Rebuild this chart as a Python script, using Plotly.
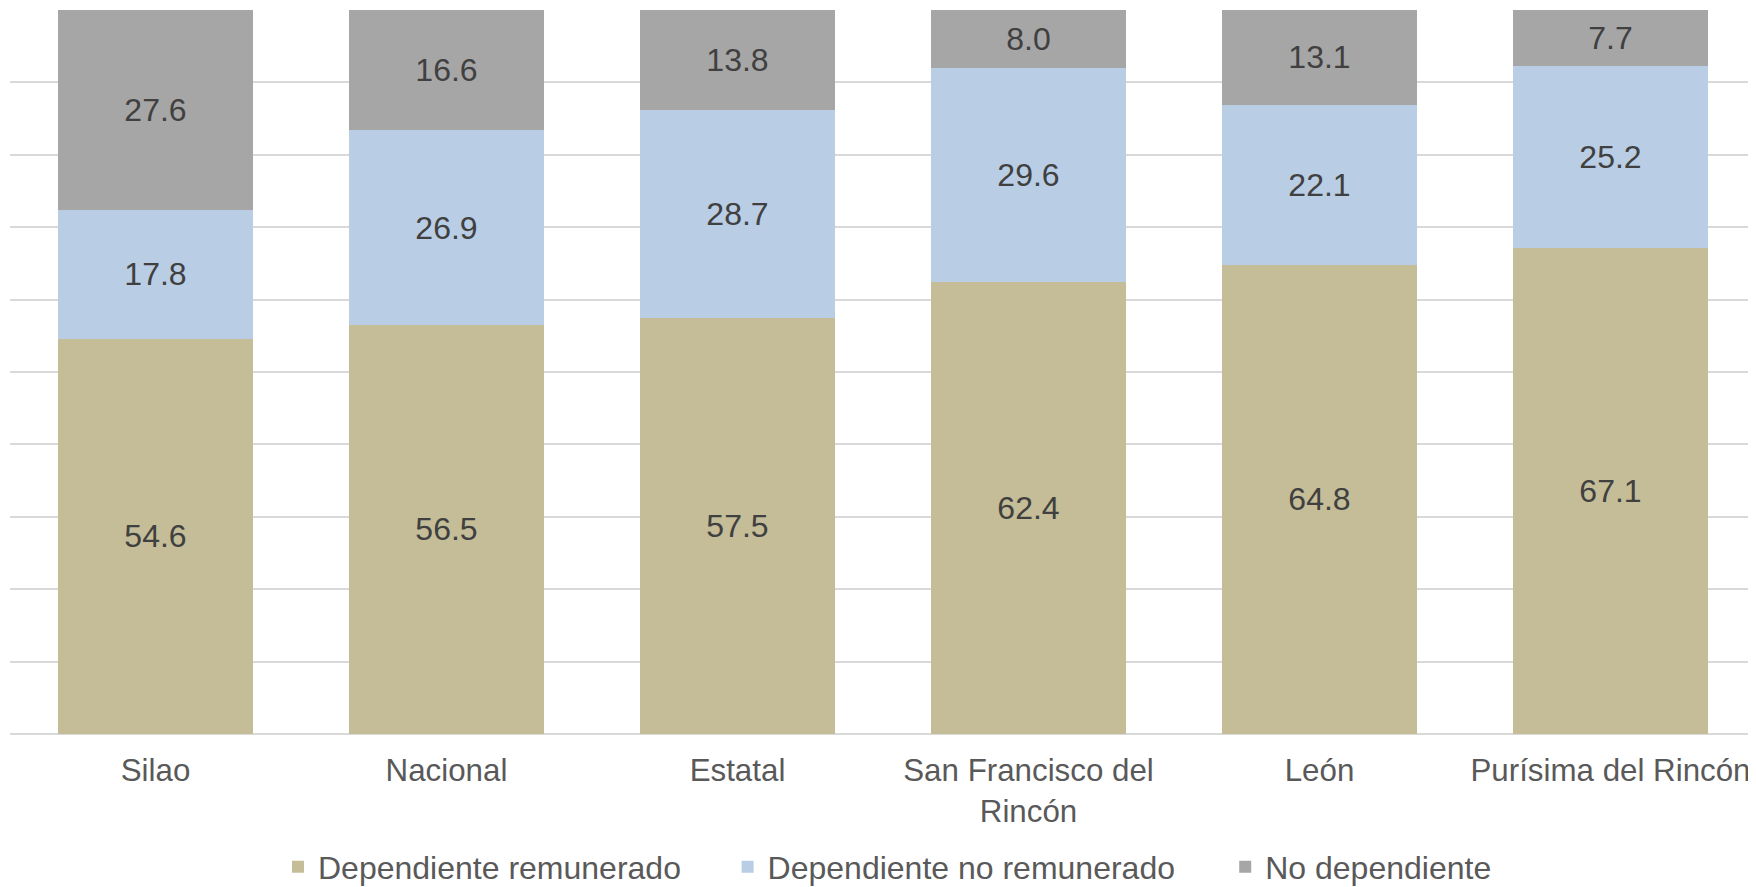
import plotly.graph_objects as go

categories = ["Silao", "Nacional", "Estatal", "San Francisco del<br>Rincón", "León", "Purísima del Rincón"]
dep_remunerado = [54.6, 56.5, 57.5, 62.4, 64.8, 67.1]
dep_no_remunerado = [17.8, 26.9, 28.7, 29.6, 22.1, 25.2]
no_dependiente = [27.6, 16.6, 13.8, 8.0, 13.1, 7.7]

series = [
    ("Dependiente remunerado", dep_remunerado, "#C4BD97", "legend"),
    ("Dependiente no remunerado", dep_no_remunerado, "#B9CDE5", "legend2"),
    ("No dependiente", no_dependiente, "#A6A6A6", "legend3"),
]

W, H = 1768, 895
fig = go.Figure()
for name, vals, color, lg in series:
    fig.add_trace(go.Bar(
        x=categories, y=vals, name=name, legend=lg,
        marker=dict(color=color, line=dict(width=0)),
        text=[f"{v:.1f}" for v in vals],
        textposition="inside", insidetextanchor="middle", textangle=0,
        constraintext="none",
        textfont=dict(family="Liberation Sans, Arial", size=32, color="#404040"),
        width=0.67,
    ))

leg_common = dict(orientation="h", xanchor="left", yanchor="middle", y=-0.1838,
                  font=dict(size=32, color="#595959"), itemwidth=30,
                  bgcolor="rgba(0,0,0,0)")

fig.update_layout(
    barmode="stack",
    width=W, height=H,
    margin=dict(l=2, r=20, t=2, b=169.4),
    plot_bgcolor="white", paper_bgcolor="white",
    font=dict(family="Liberation Sans, Arial", size=32, color="#595959"),
    showlegend=True,
    legend=dict(x=0.1535, **leg_common),
    legend2=dict(x=0.411, **leg_common),
    legend3=dict(x=0.696, **leg_common),
    xaxis=dict(
        showgrid=False, showline=False, ticks="", tickfont=dict(size=31.3, color="#595959"),
        range=[-0.5, 5.5], ticklabelstandoff=15,
    ),
    yaxis=dict(
        range=[0, 100], dtick=10, showticklabels=False, showgrid=True,
        gridcolor="#D9D9D9", gridwidth=2, zeroline=True, zerolinecolor="#D9D9D9",
        zerolinewidth=2, showline=False,
    ),
)

fig.write_html("out.html")
